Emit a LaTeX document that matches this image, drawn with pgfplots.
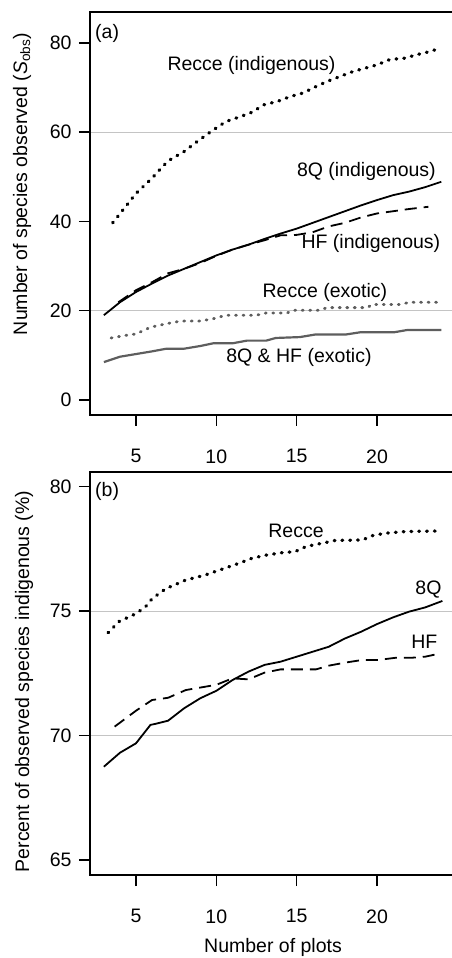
\documentclass[border=0pt]{standalone}
\usepackage{fontspec}
\setmainfont{Liberation Sans}
\usepackage{pgfplots}
\pgfplotsset{compat=1.18}

\definecolor{exo}{HTML}{5E5E5E}
\definecolor{gridc}{HTML}{C4C4C4}

\newcommand{\lab}{\fontsize{19.5}{23}\selectfont}
\tikzset{txt/.style={font=\lab, inner sep=0pt}}

\pgfplotsset{
  panel/.style={
    scale only axis, width=363pt, height=403pt,
    anchor=south west, clip=false,
    axis line style={draw=none},
    tick align=outside, tick pos=left,
    major tick length=11pt,
    tick style={line width=1.5pt, black},
    xmin=2.1375, xmax=24.73,
    xtick={5,10,15,20},
    ticklabel style={font=\lab},
    /pgf/number format/assume math mode=true,
    xticklabel style={yshift=-20pt},
    yticklabel style={xshift=-4pt},
    extra y tick style={major tick length=0pt, grid=major,
      major grid style={gridc, line width=0.9pt}},
  },
  recce/.style={black, line width=3.3pt, dash pattern=on 0.8pt off 7pt, line cap=round},
  eightq/.style={black, line width=1.8pt},
  hf/.style={black, line width=1.8pt, dash pattern=on 12pt off 7pt},
  recceexo/.style={exo, line width=2.8pt, dash pattern=on 1pt off 6.5pt, line cap=round},
  exoline/.style={exo, line width=2.2pt},
}

\begin{document}
\begin{tikzpicture}
\useasboundingbox (0,0) rectangle (451pt,958pt);

% (a) species observed
\begin{axis}[panel, at={(90pt,543pt)},
  ymin=-3.36, ymax=86.95, ytick={0,20,40,60,80},
  extra y ticks={20,60}, extra y tick labels={}]
\draw[line width=1.8pt] (rel axis cs:1.02,1) -| (rel axis cs:0,0) -- (rel axis cs:1.02,0);

\addplot[recce] coordinates {
(3.55,39.7)(4.5,44.0)(5,46.3)(6,49.7)(6.7,52.5)(7.1,53.8)(8,55.7)(8.8,57.9)
(9.8,60.5)(10.6,62.4)(11.5,63.5)(12.3,64.6)(12.9,66.1)(13.8,66.9)(14.6,68.0)
(15.4,68.8)(16,69.9)(16.9,71.4)(17.7,72.5)(18.5,73.6)(19.1,74.2)(20,75.1)
(20.8,76.3)(21.7,76.6)(22.5,77.4)(23.3,78.1)(24,78.9)};

\addplot[eightq] coordinates {
(3,19)(4,21.9)(5,24.2)(6,26.1)(7,27.9)(8,29.4)(9,30.9)(10,32.4)(11,33.7)
(12,34.8)(13,36.1)(14,37.3)(15,38.4)(16,39.7)(17,41.0)(18,42.3)(19,43.6)
(20,44.8)(21,45.9)(22,46.7)(23,47.7)(24,48.9)};

\addplot[hf] coordinates {
(3.9,21.9)(5,24.6)(6,26.4)(7,28.4)(8,29.4)(9,30.7)(10,32.3)(11,33.7)(12,34.8)
(13,35.8)(14,36.9)(15,37.0)(16,37.6)(17,38.9)(18,39.7)(19,40.9)(20,41.8)
(21,42.3)(22,42.8)(23.2,43.3)};

\addplot[recceexo] coordinates {
(3.45,13.9)(4.4,14.5)(5,14.8)(5.9,16.3)(6.9,17.1)(7.8,17.7)(9,17.7)(9.8,18.2)
(10.6,19.0)(12.5,19.0)(13.1,19.5)(14.4,19.5)(14.8,20.1)(16.4,20.1)(16.9,20.7)
(19.4,20.7)(19.7,21.4)(21.4,21.4)(22.05,21.9)(24,21.9)};

\addplot[exoline] coordinates {
(3,8.5)(4,9.7)(5,10.3)(6,10.9)(6.9,11.5)(8,11.5)(9,12.1)(9.8,12.7)(11,12.7)
(11.9,13.3)(13.1,13.3)(13.7,13.9)(15.2,14.1)(16.2,14.7)(18.1,14.7)(19,15.2)
(21.1,15.2)(21.9,15.7)(24,15.7)};

\node[txt, anchor=west] at (axis cs:2.45,82.2) {(a)};
\node[txt] at (axis cs:12.19,74.9) {Recce (indigenous)};
\node[txt] at (axis cs:19.34,51.2) {8Q (indigenous)};
\node[txt] at (axis cs:19.62,35.0) {HF (indigenous)};
\node[txt] at (axis cs:16.76,24.0) {Recce (exotic)};
\node[txt] at (axis cs:15.14,9.5) {8Q \& HF (exotic)};
\end{axis}

% (b) percent indigenous
\begin{axis}[panel, at={(90pt,83pt)},
  ymin=64.40, ymax=80.59, ytick={65,70,75,80},
  extra y ticks={70,75}, extra y tick labels={}]
\draw[line width=1.8pt] (rel axis cs:1.02,1) -| (rel axis cs:0,0) -- (rel axis cs:1.02,0);

\addplot[recce] coordinates {
(3.26,74.13)(3.94,74.58)(5,74.9)(5.6,75.18)(6,75.5)(6.85,75.9)(8.1,76.25)
(9.3,76.45)(10.2,76.65)(11.4,76.92)(12.2,77.12)(13.1,77.25)(14.1,77.35)
(14.9,77.39)(15.6,77.6)(16.6,77.73)(17.4,77.84)(19.1,77.86)(19.7,78.03)
(20.5,78.13)(21.8,78.2)(23.9,78.22)};

\addplot[eightq] coordinates {
(3,68.75)(4,69.31)(5,69.69)(5.9,70.43)(6.2,70.47)(7,70.6)(8,71.1)(9,71.5)
(10,71.8)(11,72.23)(12,72.57)(13,72.84)(14,72.97)(15,73.17)(16,73.37)
(17,73.57)(18,73.9)(19,74.17)(20,74.48)(21,74.75)(22,74.98)(23,75.15)(24.07,75.41)};

\addplot[hf] coordinates {
(3.67,70.36)(5,71.0)(6,71.43)(7,71.52)(8.1,71.83)(9,71.93)(10,72.04)(11,72.3)
(12,72.26)(13,72.53)(14,72.66)(16.2,72.66)(17,72.81)(18,72.93)(19.1,73.04)
(20.1,73.04)(21.2,73.13)(22.2,73.13)(23,73.17)(24,73.31)};

\node[txt, anchor=west] at (axis cs:2.45,79.81) {(b)};
\node[txt] at (axis cs:14.96,78.23) {Recce};
\node[txt] at (axis cs:23.2,75.88) {8Q};
\node[txt] at (axis cs:22.95,73.78) {HF};
\end{axis}

\node[txt, rotate=90] at (22pt,774pt) {Number of species observed (\textit{S}\textsubscript{obs})};
\node[txt, rotate=90] at (24pt,276.5pt) {Percent of observed species indigenous (\%)};
\node[txt] at (273pt,11pt) {Number of plots};
\end{tikzpicture}
\end{document}
